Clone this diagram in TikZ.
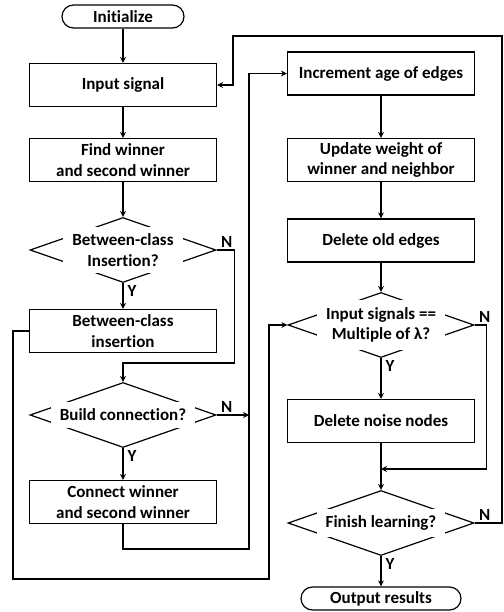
\documentclass[tikz,border=0pt]{standalone}
\usepackage{fontspec}
\setmainfont{Carlito}[Ligatures=NoCommon]
\usepackage{tikz}
\usetikzlibrary{arrows.meta,shapes.geometric}

\begin{document}
\begin{tikzpicture}[x=1pt,y=-1pt,line width=1.2pt,
  every node/.style={font=\bfseries\fontsize{17}{20.7}\selectfont},
  procbox/.style={draw,rectangle,minimum width=187pt,minimum height=43pt,align=center,inner sep=0pt},
  terminal/.style={draw,rectangle,rounded corners=11.5pt,minimum height=23pt,inner sep=0pt},
  decision/.style={draw,diamond,minimum width=186pt,minimum height=65pt,inner sep=0pt},
  gaptext/.style={fill=white,align=center,inner xsep=9pt,inner ysep=7pt},
  yn/.style={inner xsep=4pt,inner ysep=2pt},
  arr/.style={-{Stealth[length=6pt,width=6pt]}}]
  \useasboundingbox (0,0) rectangle (503,612);
  % left column
  \node[terminal,minimum width=122pt] (init) at (123,16.5) {Initialize};
  \node[procbox] (input) at (123,85) {Input signal};
  \node[procbox] (find) at (123,160) {Find winner\\and second winner};
  \node[decision] (dBetween) at (123,250) {};
  \node[gaptext] (tBetween) at (dBetween) {Between-class\\Insertion?};
  \node[procbox] (insert) at (123,331) {Between-class\\insertion};
  \node[decision] (dBuild) at (123,415) {};
  \node[gaptext] (tBuild) at (dBuild) {Build connection?};
  \node[procbox] (connect) at (123,502) {Connect winner\\and second winner};
  % right column
  \node[procbox] (incr) at (381,73.5) {Increment age of edges};
  \node[procbox] (update) at (381,160) {Update weight of\\winner and neighbor};
  \node[procbox] (delold) at (381,240.5) {Delete old edges};
  \node[decision] (dMult) at (381,325) {};
  \node[gaptext] (tMult) at (dMult) {Input signals ==\\Multiple of λ?};
  \node[procbox] (noise) at (381,421) {Delete noise nodes};
  \node[decision] (dFinish) at (381,523) {};
  \node[gaptext] (tFinish) at (dFinish) {Finish learning?};
  \node[terminal,minimum width=160pt] (output) at (381,598.5) {Output results};
  % corners of the long loops
  \coordinate (topL) at (233,36);
  \coordinate (topR) at (502,36);
  \coordinate (busB) at (249,549);
  \coordinate (lowL) at (13,579);
  \coordinate (lowR) at (269,579);
  \coordinate (merge) at (381,469);
  % left flow
  \draw[arr] (init) -- (input);
  \draw[arr] (input) -- (find);
  \draw[arr] (find) -- (dBetween.north);
  \draw[arr] (dBetween.south) -- (insert);
  \draw[arr] (dBetween.east) -- ++(18,0) |- ([yshift=19pt]dBuild.north) -- (dBuild.north);
  \draw[arr] (dBuild.south) -- (connect);
  \draw[arr] (dBuild.east) -- (dBuild.east -| busB);
  \draw[arr] (connect.south) |- (busB) |- (incr.west);
  \draw[arr] (insert.west) -| (lowL) -- (lowR) |- (dMult.west);
  % right flow
  \draw[arr] (incr) -- (update);
  \draw[arr] (update) -- (delold);
  \draw[arr] (delold) -- (dMult.north);
  \draw[arr] (dMult.south) -- (noise);
  \draw[arr] (dMult.east) -- ++(12,0) |- (merge);
  \draw[arr] (noise) -- (dFinish.north);
  \draw[arr] (dFinish.south) -- (output);
  \draw[arr] (dFinish.east) -| (topR) -- (topL) |- (input.east);
  % Y / N labels
  \node[yn,above right] (nBetween) at (dBetween.east) {N};
  \node[yn,below right] (yBetween) at (dBetween.south) {Y};
  \node[yn,above right] (nBuild) at (dBuild.east) {N};
  \node[yn,below right] (yBuild) at (dBuild.south) {Y};
  \node[yn,above right] (nMult) at (dMult.east) {N};
  \node[yn,below right] (yMult) at (dMult.south) {Y};
  \node[yn,above right] (nFinish) at (dFinish.east) {N};
  \node[yn,below right] (yFinish) at (dFinish.south) {Y};
\end{tikzpicture}
\end{document}
